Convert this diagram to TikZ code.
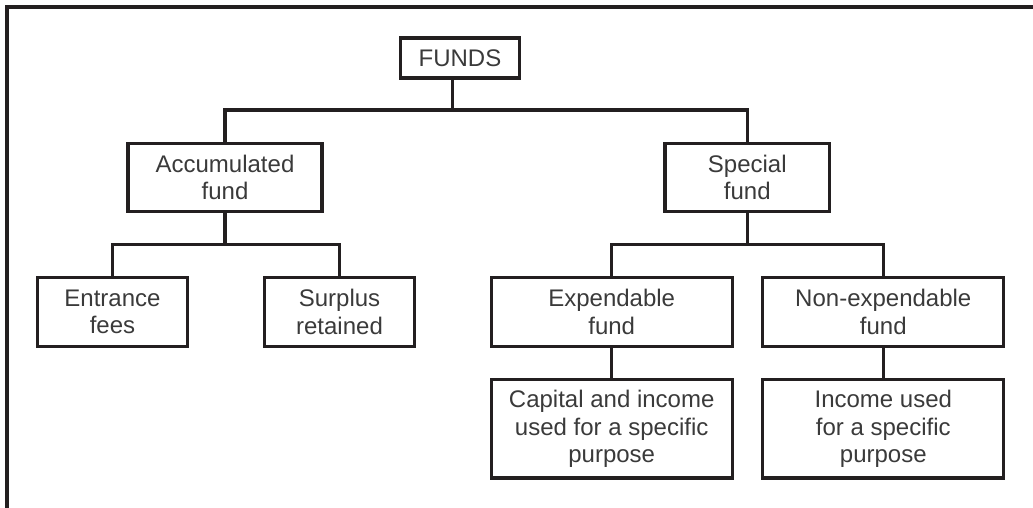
\documentclass[tikz,border=0pt]{standalone}
\usepackage{fontspec}
\setmainfont{Liberation Sans}
\definecolor{ink}{RGB}{35,31,32}
\definecolor{txt}{RGB}{58,58,58}
\begin{document}
\begin{tikzpicture}[x=1pt,y=-1pt,
  box/.style={draw=ink, line width=3.2pt, align=center, text=txt, inner sep=0pt,
              font=\fontsize{24}{27.5}\selectfont},
  lvl2/.style={box, minimum height=68pt},
  lvl3/.style={box, minimum height=68.5pt},
  lvl4/.style={box, minimum height=98.5pt, minimum width=241pt},
  link/.style={draw=ink, line width=3.2pt}]
\useasboundingbox (0,0) rectangle (1033,508);

% open frame: left and top edges only
\draw[link] (7,512) -- (7,7) -- (1040,7);

% boxes
\node[box, minimum width=119pt, minimum height=40pt] (funds) at (460,58) {FUNDS};
\node[lvl2, minimum width=194pt]   (acc)  at (225,177.5)   {Accumulated\\fund};
\node[lvl2, minimum width=164.5pt] (spec) at (747.3,177.5) {Special\\fund};
\node[lvl3, minimum width=149.5pt] (ent)  at (112.5,312)   {Entrance\\fees};
\node[lvl3, minimum width=150pt]   (sur)  at (339.5,312)   {Surplus\\retained};
\node[lvl3, minimum width=241pt]   (exp)  at (611.7,312)   {Expendable\\fund};
\node[lvl3, minimum width=241pt]   (nexp) at (883.3,312)   {Non-expendable\\fund};
\node[lvl4] (cap) at (611.7,428.8) {Capital and income\\used for a specific\\purpose};
\node[lvl4] (inc) at (883.3,428.8) {Income used\\for a specific\\purpose};

% junction points of the tree
\coordinate (j0) at (452.3,110);
\coordinate (j1) at (225,244.3);
\coordinate (j2) at (747.3,244.3);

% connectors
\draw[link] (funds.south -| j0) -- (j0);
\draw[link] (acc.north) |- (j0) -| (spec.north);
\draw[link] (acc.south) -- (j1);
\draw[link] (ent.north) |- (j1) -| (sur.north);
\draw[link] (spec.south) -- (j2);
\draw[link] (exp.north) |- (j2) -| (nexp.north);
\draw[link] (exp.south) -- (cap.north);
\draw[link] (nexp.south) -- (inc.north);
\end{tikzpicture}
\end{document}
